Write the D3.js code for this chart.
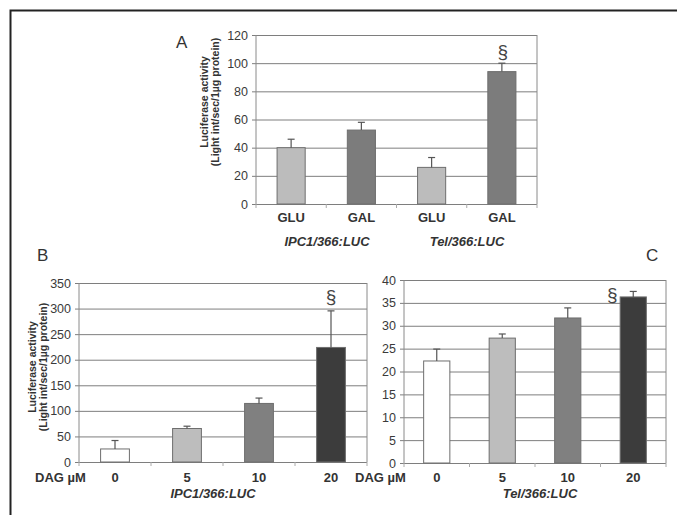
<!DOCTYPE html>
<html>
<head>
<meta charset="utf-8">
<script src="https://cdn.jsdelivr.net/npm/d3@7"></script>
<style>
  body { margin: 0; background: #fff; }
  svg { display: block; font-family: 'Liberation Sans', Arial, sans-serif; }
</style>
</head>
<body>
<script>
'use strict'

// panel A: glucose vs galactose
const aCategories = ['GLU', 'GAL', 'GLU', 'GAL']
const aGroups = ['IPC1/366:LUC', 'Tel/366:LUC']
const aValues = [40, 52.5, 26, 94]
const aErrors = [6, 5.5, 7, 6]
const aTicks = [0, 20, 40, 60, 80, 100, 120]

// panel B: DAG dose on IPC1/366:LUC
const bDoses = ['0', '5', '10', '20']
const bValues = [25.5, 65.5, 114.5, 224]
const bErrors = [16.5, 4.5, 10.5, 71.5]
const bTicks = [0, 50, 100, 150, 200, 250, 300, 350]

// panel C: DAG dose on Tel/366:LUC
const cDoses = ['0', '5', '10', '20']
const cValues = [22.3, 27.3, 31.7, 36.3]
const cErrors = [2.6, 0.9, 2.2, 1.2]
const cTicks = [0, 5, 10, 15, 20, 25, 30, 35, 40]

const yLabel = ['Luciferase activity', '(Light int/sec/1\u00b5g protein)']

const svg = d3.select('body').append('svg')
  .attr('width', 677)
  .attr('height', 515)

// outer figure frame (runs off the right and bottom of the picture)
svg.append('rect')
  .attr('x', 10.5).attr('y', 10.5)
  .attr('width', 720).attr('height', 600)
  .attr('fill', 'none')
  .attr('stroke', '#222')
  .attr('stroke-width', 2)

function drawPanel (p) {
  const g = svg.append('g')
  const x = d3.scaleBand()
    .domain(d3.range(p.values.length))
    .range([p.left, p.right])
    .paddingInner(0.6)
    .paddingOuter(0.3)
  const y = d3.scaleLinear()
    .domain([0, d3.max(p.ticks)])
    .range([p.bottom, p.top])

  // gridlines + tick labels
  const yAxis = d3.axisLeft(y)
    .tickValues(p.ticks)
    .tickSize(-(p.right - p.left))
    .tickPadding(8)
  const ya = g.append('g')
    .attr('transform', 'translate(' + p.left + ',0)')
    .call(yAxis)
  ya.select('.domain').remove()
  ya.selectAll('line').attr('stroke', '#7e7e7e').attr('x1', -4)
  ya.selectAll('text')
    .attr('fill', '#3a3a3a')
    .attr('font-size', 12.5)
    .attr('font-family', "'Liberation Sans', Arial, sans-serif")

  // plot frame: left axis and right edge
  g.append('line')
    .attr('x1', p.left).attr('x2', p.left)
    .attr('y1', p.top).attr('y2', p.bottom)
    .attr('stroke', '#8a8a8a')
  g.append('line')
    .attr('x1', p.right).attr('x2', p.right)
    .attr('y1', p.top).attr('y2', p.bottom)
    .attr('stroke', '#8a8a8a')

  // little tick marks below the x axis, between the categories
  const step = x.step()
  d3.range(p.values.length + 1).forEach(i => {
    const tx = p.left + step * i
    g.append('line')
      .attr('x1', tx).attr('x2', tx)
      .attr('y1', p.bottom).attr('y2', p.bottom + 4)
      .attr('stroke', '#aaa')
  })

  // bars
  g.selectAll('rect.bar')
    .data(p.values)
    .enter().append('rect')
    .attr('class', 'bar')
    .attr('x', (d, i) => x(i))
    .attr('y', d => y(d))
    .attr('width', x.bandwidth())
    .attr('height', d => y(0) - y(d))
    .attr('fill', (d, i) => p.fills[i])
    .attr('stroke', '#6e6e6e')
    .attr('stroke-width', 1)

  // upward error bars
  p.values.forEach((d, i) => {
    const cx = x(i) + x.bandwidth() / 2
    const top = y(d + p.errors[i])
    g.append('line')
      .attr('x1', cx).attr('x2', cx)
      .attr('y1', y(d)).attr('y2', top)
      .attr('stroke', '#555')
      .attr('stroke-width', 1.2)
    g.append('line')
      .attr('x1', cx - 3.5).attr('x2', cx + 3.5)
      .attr('y1', top).attr('y2', top)
      .attr('stroke', '#555')
      .attr('stroke-width', 1.2)
  })

  // category labels
  p.labels.forEach((t, i) => {
    g.append('text')
      .attr('x', x(i) + x.bandwidth() / 2)
      .attr('y', p.labelY)
      .attr('text-anchor', 'middle')
      .attr('font-size', 13)
      .attr('font-weight', 'bold')
      .attr('fill', '#333')
      .text(t)
  })

  // rotated y label, two lines (panel C has none)
  if (p.ylabX !== undefined) {
    const yl = g.append('text')
      .attr('transform', 'translate(' + p.ylabX + ',' + p.ylabY + ') rotate(-90)')
      .attr('text-anchor', 'middle')
      .attr('font-size', 10.5)
      .attr('font-weight', 'bold')
      .attr('fill', '#333')
    yl.append('tspan').attr('x', 0).attr('dy', 0).text(yLabel[0])
    yl.append('tspan').attr('x', 0).attr('dy', 11).text(yLabel[1])
  }

  // significance mark
  g.append('text')
    .attr('x', x(p.sigIndex) + x.bandwidth() / 2 + p.sigDx)
    .attr('y', y(p.values[p.sigIndex] + p.errors[p.sigIndex]) + p.sigDy)
    .attr('text-anchor', 'middle')
    .attr('font-size', 19)
    .attr('fill', '#444')
    .text('\u00a7')

  return { x, g }
}

function panelLetter (t, lx, ly) {
  svg.append('text')
    .attr('x', lx).attr('y', ly)
    .attr('font-size', 17)
    .attr('fill', '#333')
    .text(t)
}

function groupLabel (t, lx, ly) {
  svg.append('text')
    .attr('x', lx).attr('y', ly)
    .attr('text-anchor', 'middle')
    .attr('font-size', 13)
    .attr('font-weight', 'bold')
    .attr('font-style', 'italic')
    .attr('fill', '#333')
    .text(t)
}

function dagLabel (lx, ly) {
  svg.append('text')
    .attr('x', lx).attr('y', ly)
    .attr('font-size', 13)
    .attr('font-weight', 'bold')
    .attr('fill', '#333')
    .text('DAG \u00b5M')
}

// ---- panel A
drawPanel({
  values: aValues,
  errors: aErrors,
  ticks: aTicks,
  labels: aCategories,
  fills: ['#bcbcbc', '#7c7c7c', '#bcbcbc', '#7c7c7c'],
  left: 256, right: 537, top: 35, bottom: 204,
  labelY: 222,
  ylabX: 208, ylabY: 102,
  sigIndex: 3, sigDx: 1, sigDy: -5
})
panelLetter('A', 176, 48)
groupLabel(aGroups[0], 327, 246)
groupLabel(aGroups[1], 467, 246)

// ---- panel B
drawPanel({
  values: bValues,
  errors: bErrors,
  ticks: bTicks,
  labels: bDoses,
  fills: ['#ffffff', '#bdbdbd', '#808080', '#3c3c3c'],
  left: 79, right: 367, top: 283, bottom: 462,
  labelY: 482,
  ylabX: 36, ylabY: 367,
  sigIndex: 3, sigDx: 0, sigDy: -8
})
panelLetter('B', 37, 261)
groupLabel('IPC1/366:LUC', 213, 498)
dagLabel(35, 482)

// ---- panel C
drawPanel({
  values: cValues,
  errors: cErrors,
  ticks: cTicks,
  labels: cDoses,
  fills: ['#ffffff', '#bdbdbd', '#808080', '#3c3c3c'],
  left: 404, right: 666, top: 280, bottom: 463,
  labelY: 482,
  sigIndex: 3, sigDx: -21, sigDy: 10
})
panelLetter('C', 646, 261)
groupLabel('Tel/366:LUC', 540, 498)
dagLabel(355, 482)
</script>
</body>
</html>
